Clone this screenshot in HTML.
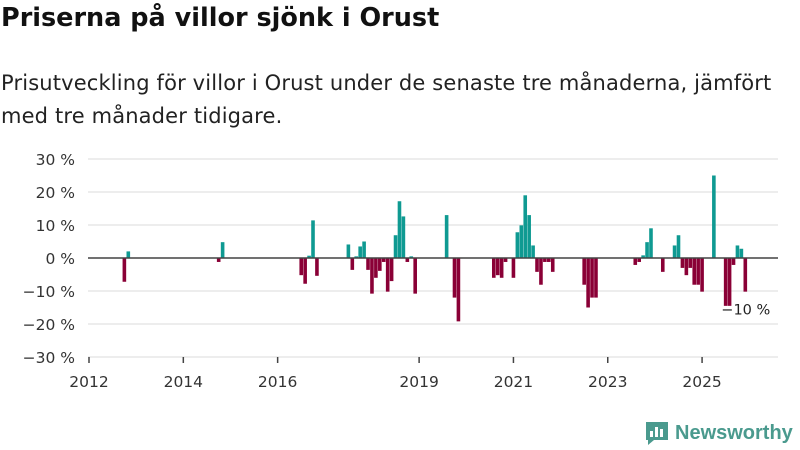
<!DOCTYPE html>
<html><head><meta charset="utf-8">
<style>
body{margin:0;width:800px;height:450px;background:#fff;font-family:"Liberation Sans",sans-serif;overflow:hidden;position:relative}
h1{position:absolute;left:1px;top:3px;margin:0;font-family:"DejaVu Sans",sans-serif;font-size:25.5px;font-weight:bold;color:#111}
.sub{position:absolute;left:1px;top:67px;margin:0;font-family:"DejaVu Sans",sans-serif;font-size:21px;line-height:33px;color:#222;width:799px;white-space:nowrap;letter-spacing:0.15px}
svg{position:absolute;left:0;top:0}
</style></head><body>
<h1>Priserna på villor sjönk i Orust</h1>
<p class="sub">Prisutveckling för villor i Orust under de senaste tre månaderna, jämfört<br>med tre månader tidigare.</p>
<svg id="chart" width="800" height="450"></svg>
<script>
const months = [9,10,33,34,54,55,56,57,58,66,67,68,69,70,71,72,73,74,75,76,77,78,79,80,81,82,83,91,93,94,103,104,105,106,108,109,110,111,112,113,114,115,116,117,118,126,127,128,129,139,140,141,142,143,146,149,150,151,152,153,154,155,156,159,162,163,164,165,166,167];
const values = [-7.2,2,-1.2,4.8,-5.2,-7.8,0.7,11.4,-5.4,4.1,-3.6,0.5,3.5,5,-3.6,-10.8,-6,-3.9,-1.2,-10.2,-7,6.9,17.2,12.6,-1.2,0.5,-10.8,13,-12,-19.2,-6,-5.2,-6,-1.2,-6,7.8,9.9,19,13,3.8,-4.2,-8.1,-1.2,-1.2,-4.2,-8.1,-15,-12,-12,-2.1,-1.2,0.8,4.8,9,-4.2,3.8,6.9,-3,-5.2,-3,-8.1,-8.1,-10.2,25,-14.5,-14.5,-2.1,3.8,2.8,-10.2];
const yTicks = [30,20,10,0,-10,-20,-30];
const xTickYears = [2012,2014,2016,2019,2021,2023,2025];
const lastLabel = "−10 %";
const NS="http://www.w3.org/2000/svg", svg=document.getElementById('chart');
const X0=89, PM=3.93, Y0=258, PY=3.3, L=88, R=778;
const FONT='DejaVu Sans, sans-serif';
const x=m=>X0+m*PM, y=v=>Y0-v*PY;
function mk(t,a){const e=document.createElementNS(NS,t);for(const k in a)e.setAttribute(k,a[k]);svg.appendChild(e);return e;}
yTicks.forEach(v=>{
  const g=mk('line',{x1:L,x2:R,y1:y(v),y2:y(v),stroke:'#e2e2e2','stroke-width':1.3});
  
  
  const t=mk('text',{x:75,y:y(v)+6,'text-anchor':'end','font-size':15.5,fill:'#333','font-family':FONT});
  t.textContent=(v<0?'−'+(-v):v)+' %';
  
  
});
xTickYears.forEach(yr=>{
  const xx=x((yr-2012)*12);
  const l=mk('line',{x1:xx,x2:xx,y1:y(-30),y2:y(-30)+6,stroke:'#444','stroke-width':1.5});
  
  
  const t=mk('text',{x:xx,y:387,'text-anchor':'middle','font-size':15.5,fill:'#333','font-family':FONT});
  t.textContent=yr;
  
  
});
months.forEach((m,i)=>{
  const v=values[i];
  const r=mk('rect',{x:x(m)-1.8,width:3.6,y:Math.min(y(v),Y0),height:Math.abs(y(v)-Y0),fill:v>=0?'#0f9a92':'#8a0036'});
  
  
});
const z=mk('line',{x1:L,x2:R,y1:Y0,y2:Y0,stroke:'#444','stroke-width':1.5});


const lm=months[months.length-1], lv=values[values.length-1];
const lt=mk('text',{x:x(lm)-24,y:y(lv)+23,'font-size':14.5,fill:'#222','font-family':FONT});
lt.textContent=lastLabel;


</script>
<div style="position:absolute;left:644px;top:420px;display:flex;align-items:center">
<svg width="26" height="26" viewBox="0 0 26 26" style="position:static"><path d="M2 2h22v18H10l-6 5v-5H2z" fill="#4a9a8e"/><rect x="6" y="11" width="3" height="6" fill="#fff"/><rect x="11" y="7" width="3" height="10" fill="#fff"/><rect x="16" y="9" width="3" height="8" fill="#fff"/></svg>
<span style="font-size:20px;font-weight:bold;color:#4a9a8e;margin-left:5px">Newsworthy</span></div>
</body></html>
